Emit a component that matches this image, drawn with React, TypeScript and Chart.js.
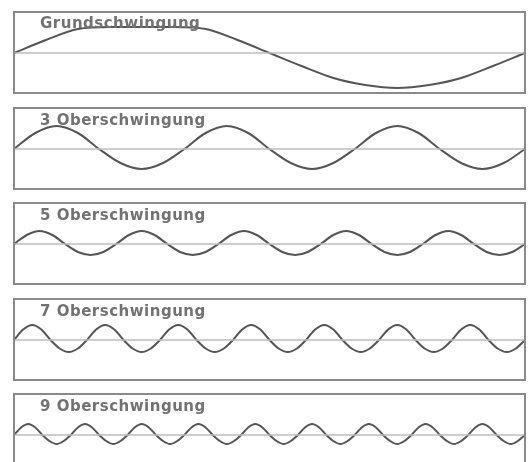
import React, { useEffect, useRef } from "react";
import { Chart, registerables } from "chart.js";

Chart.register(...registerables);

// Panel titles
const titles = [
  "Grundschwingung",
  "3 Oberschwingung",
  "5 Oberschwingung",
  "7 Oberschwingung",
  "9 Oberschwingung",
];

// Wave samples (pixel-like amplitude units, up = positive)
const wave1 = [0, 13, 24, 26, 26, 26, 24, 13, 0, -13, -25, -32, -35, -32, -25, -13, 0];

const wave3 = [
  0, 16, 23, 16, 0, -14, -20, -14,
  0, 16, 23, 16, 0, -14, -20, -14,
  0, 16, 23, 16, 0, -14, -20, -14,
  0,
];

const wave5 = [
  0, 9, 13, 9, 0, -8, -11, -8,
  0, 9, 13, 9, 0, -8, -11, -8,
  0, 9, 13, 9, 0, -8, -11, -8,
  0, 9, 13, 9, 0, -8, -11, -8,
  0, 9, 13, 9, 0, -8, -11, -8,
  0,
];

const wave7 = [
  0, 10.5, 15, 10.5, 0, -8.5, -12, -8.5,
  0, 10.5, 15, 10.5, 0, -8.5, -12, -8.5,
  0, 10.5, 15, 10.5, 0, -8.5, -12, -8.5,
  0, 10.5, 15, 10.5, 0, -8.5, -12, -8.5,
  0, 10.5, 15, 10.5, 0, -8.5, -12, -8.5,
  0, 10.5, 15, 10.5, 0, -8.5, -12, -8.5,
  0, 10.5, 15, 10.5, 0, -8.5, -12, -8.5,
  0,
];

const wave9 = [
  0, 7.5, 11, 7.5, 0, -6, -9, -6,
  0, 7.5, 11, 7.5, 0, -6, -9, -6,
  0, 7.5, 11, 7.5, 0, -6, -9, -6,
  0, 7.5, 11, 7.5, 0, -6, -9, -6,
  0, 7.5, 11, 7.5, 0, -6, -9, -6,
  0, 7.5, 11, 7.5, 0, -6, -9, -6,
  0, 7.5, 11, 7.5, 0, -6, -9, -6,
  0, 7.5, 11, 7.5, 0, -6, -9, -6,
  0, 7.5, 11, 7.5, 0, -6, -9, -6,
  0,
];

const waves = [wave1, wave3, wave5, wave7, wave9];

const Y_MIN = -40;
const Y_MAX = 41;

// layout
const BOX_TOPS = [12, 108, 203, 299, 394];
const BOX_H = 81;
const CANVAS_LEFT = 13;
const CANVAS_W = 513;

const framePlugin = {
  id: "frame",
  afterDatasetsDraw(chart: any, _args: any, opts: any) {
    const { ctx, chartArea: a } = chart;
    ctx.save();
    ctx.strokeStyle = "#8a8a8a";
    ctx.lineWidth = 2;
    ctx.strokeRect(a.left, a.top, a.right - a.left, a.bottom - a.top);
    ctx.font = "bold 15px 'DejaVu Sans'";
    (ctx as any).letterSpacing = "0.5px";
    ctx.fillStyle = "#727272";
    ctx.textBaseline = "alphabetic";
    ctx.textAlign = "left";
    ctx.fillText(opts.text, a.left + 26, a.top + opts.baseline);
    ctx.restore();
  },
};

function Panel({ index }: { index: number }) {
  const ref = useRef<HTMLCanvasElement | null>(null);
  useEffect(() => {
    if (!ref.current) return;
    const ys = waves[index];
    const labels = ys.map((_, i) => String(i));
    const chart = new Chart(ref.current, {
      type: "line",
      data: {
        labels,
        datasets: [
          {
            data: ys.map(() => 0),
            borderColor: "#bdbdbd",
            borderWidth: 1.5,
            pointRadius: 0,
            tension: 0,
          },
          {
            data: ys,
            borderColor: "#555555",
            borderWidth: 2,
            pointRadius: 0,
            cubicInterpolationMode: "monotone",
          },
        ],
      },
      options: {
        responsive: false,
        animation: false,
        layout: { padding: { left: 1, right: 1, top: 1, bottom: 1 } },
        scales: {
          x: { type: "category", display: false },
          y: { display: false, min: Y_MIN, max: Y_MAX },
        },
        plugins: {
          legend: { display: false },
          tooltip: { enabled: false },
          frame: { text: titles[index], baseline: index === 0 ? 16 : 16.5 },
        } as any,
      },
      plugins: [framePlugin],
    });
    return () => chart.destroy();
  }, [index]);
  return (
    <canvas
      ref={ref}
      width={CANVAS_W}
      height={BOX_H + 2}
      style={{
        position: "absolute",
        left: CANVAS_LEFT,
        top: BOX_TOPS[index] - 1,
        width: CANVAS_W,
        height: BOX_H + 2,
      }}
    />
  );
}

export default function App() {
  return (
    <div
      style={{
        position: "fixed",
        left: 0,
        top: 0,
        width: 528,
        height: 462,
        overflow: "hidden",
        background: "#ffffff",
      }}
    >
      {titles.map((_, i) => (
        <Panel key={i} index={i} />
      ))}
    </div>
  );
}
